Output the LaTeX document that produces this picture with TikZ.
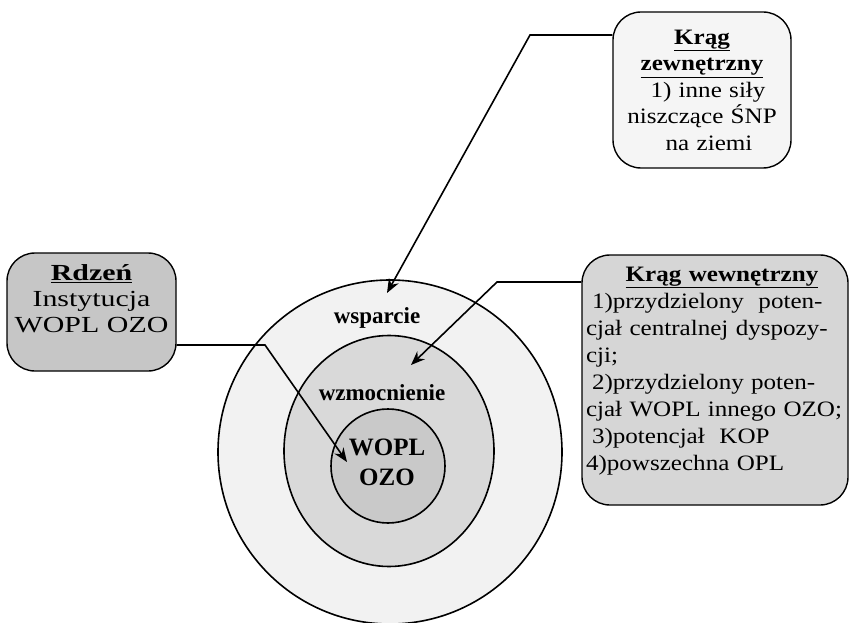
\documentclass[tikz,border=0pt]{standalone}
\usepackage{fontspec}
\setmainfont{Liberation Serif}
\newfontfamily\boxfont[FakeStretch=1.14]{Liberation Serif}
\newfontfamily\corefont[FakeStretch=1.3]{Liberation Serif}
\usetikzlibrary{arrows.meta,shapes.geometric}

\tikzset{
  box/.style={draw, line width=1.4pt, rounded corners=28pt, inner sep=4pt},
  ring/.style={draw, line width=1.6pt, inner sep=0pt},
  pointer/.style={line width=1.6pt, -{Stealth[length=14pt,width=11pt]}},
  lbl/.style={font=\fontsize{23}{27}\selectfont\bfseries}
}

\begin{document}
\begin{tikzpicture}[x=1pt,y=-1pt,font=\fontsize{22}{27}\selectfont]
  \useasboundingbox (0,0) rectangle (849,623);
  % circles
  \node[ring, circle, fill=gray!10, minimum size=344pt] (outer) at (390,452) {};
  \node[ring, ellipse, fill=gray!30, minimum width=210pt, minimum height=231pt] (middle) at (389,451) {};
  \node[ring, circle, fill=gray!42, minimum size=114pt] (inner) at (388,466) {};
  \node[lbl] (wsparcie) at (377,318) {wsparcie};
  \node[lbl] (wzmocnienie) at (382,393) {wzmocnienie};
  \node[lbl, align=center, font=\fontsize{25}{30}\selectfont\bfseries] (core) at (387,462) {WOPL\\OZO};
  % outer ring box
  \node[box, fill=gray!8, text width=170pt, align=center, minimum height=156pt,
        font=\boxfont\fontsize{22}{26.5}\selectfont] (zewn) at (702,90)
    {\textbf{\underline{Krąg}}\\\textbf{\underline{zewnętrzny}}\\\hspace*{12pt}1) inne siły\\niszczące ŚNP\\\hspace*{14pt}na ziemi};
  % core box
  \node[box, fill=gray!45, text width=161pt, align=center, minimum height=118pt,
        font=\corefont\fontsize{23}{26}\selectfont] (rdzen) at (91.5,312)
    {\textbf{\underline{Rdzeń}}\\Instytucja\\WOPL\ OZO\\\mbox{}};
  % inner ring box
  \node[box, fill=gray!32, text width=258pt, align=left, minimum height=250pt,
        font=\boxfont\fontsize{22}{27}\selectfont] (wewn) at (715,380)
    {\makebox[\hsize]{\hspace*{14pt}\textbf{\underline{Krąg wewnętrzny}}}\\
     \hspace*{6pt}1)przydzielony\ \ poten-\\
     cjał centralnej dyspozy-\\
     cji;\\
     \hspace*{6pt}2)przydzielony poten-\\
     cjał WOPL innego OZO;\\
     \hspace*{6pt}3)potencjał\ \ KOP\\
     4)powszechna OPL\\[-4pt]\mbox{}};
  % pointers
  \coordinate (tipA) at (387,293);
  \coordinate (tipB) at (411,365);
  \coordinate (tipC) at (347,462);
  \draw[pointer] (zewn.west |- 0,35) -- (530,35) -- (tipA);
  \draw[pointer] (wewn.west |- 0,282) -- (497,282) -- (tipB);
  \draw[pointer] (rdzen.east |- 0,345) -- (265,345) -- (tipC);
\end{tikzpicture}
\end{document}
